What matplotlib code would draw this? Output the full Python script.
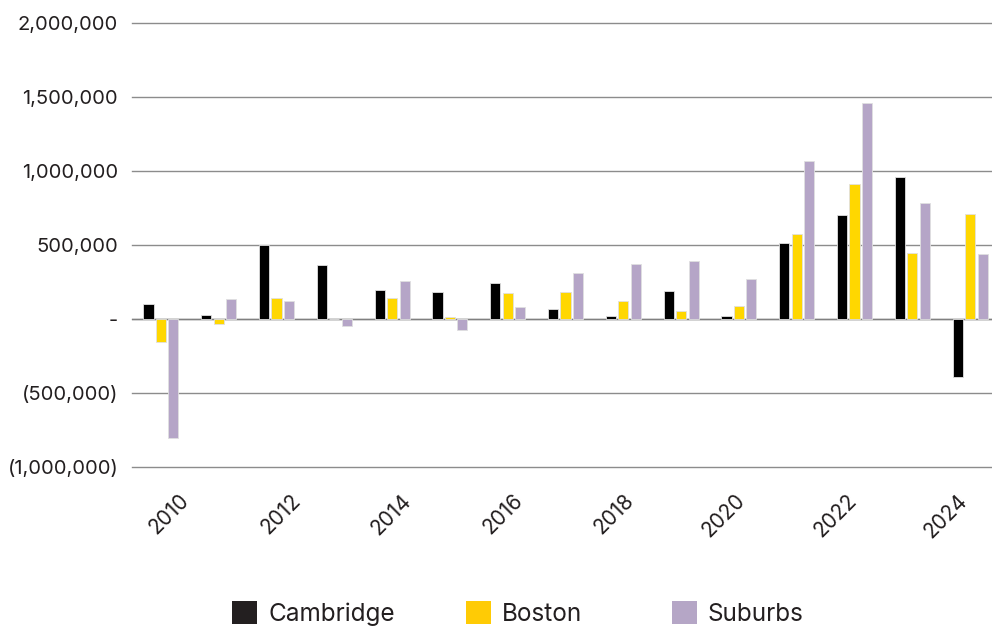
import numpy as np
import matplotlib
matplotlib.use("Agg")
import matplotlib.pyplot as plt
from matplotlib.patches import Patch
from matplotlib.ticker import FuncFormatter

plt.rcParams['font.family'] = ['Inter', 'DejaVu Sans']

# data
years = list(range(2010, 2025))
cambridge = [99000, 25000, 498000, 363000, 198000, 182000, 245000, 65000,
             20000, 189000, 18000, 514000, 705000, 957000, -392000]
boston = [-158000, -32000, 144000, 0, 142000, 11000, 173000, 185000,
          122000, 54000, 90000, 572000, 914000, 446000, 709000]
suburbs = [-806000, 135000, 122000, -45000, 259000, -77000, 83000, 311000,
           374000, 390000, 272000, 1068000, 1457000, 782000, 439000]
series_names = ['Cambridge', 'Boston', 'Suburbs']

bar_colors = ['#000000', '#FFD700', '#B5A5C7']
legend_colors = ['#231F20', '#FFCB05', '#B5A6C6']
text_color = '#231F20'
grid_color = '#8c8c8c'

fig = plt.figure(figsize=(9.92, 6.28), dpi=100)
ax = fig.add_axes([0.1331, 0.2564, 0.874, 0.707])

x = np.arange(len(years))
width = 0.175
offsets = [-0.216, 0.0, 0.216]
for vals, off, col in zip([cambridge, boston, suburbs], offsets, bar_colors):
    ax.bar(x + off, vals, width, color=col, edgecolor='#e0e0e0', linewidth=0.6, zorder=3)

ax.set_xlim(-0.5, len(years) - 0.5)
ax.set_ylim(-1000000, 2000000)
ax.set_yticks(np.arange(-1000000, 2000001, 500000))


def fmt(v, pos):
    if v == 0:
        return '-'
    if v < 0:
        return '({:,.0f})'.format(-v)
    return '{:,.0f}'.format(v)


ax.yaxis.set_major_formatter(FuncFormatter(fmt))
ax.grid(axis='y', color=grid_color, linewidth=1.0, zorder=1)
for gl in ax.get_ygridlines():
    gl.set_clip_on(False)
ax.axhline(0, color='#808080', linewidth=1.0, zorder=2)
for s in ax.spines.values():
    s.set_visible(False)

ax.tick_params(axis='y', length=0, pad=10, labelsize=14.5, labelcolor=text_color)

# category labels sit on a slightly tighter spacing than the bar groups
label_pos = x[::2] * 0.962 + 0.31
ax.set_xticks(label_pos)
ax.set_xticklabels([str(y) for y in years[::2]], rotation=45, ha='right',
                   rotation_mode='anchor', fontsize=15, color=text_color)
ax.tick_params(axis='x', length=0, pad=17)

# legend entries placed separately like the original
legend_x = [0.234, 0.4698, 0.6774]
for name, col, lx in zip(series_names, legend_colors, legend_x):
    fig.legend([Patch(facecolor=col, edgecolor='none')], [name], loc='center left',
               bbox_to_anchor=(lx, 0.023), frameon=False, fontsize=17.5,
               handlelength=1.03, handleheight=1.03, handletextpad=0.45,
               borderpad=0, borderaxespad=0, labelcolor=text_color)

fig.savefig('out.png', dpi=100)
